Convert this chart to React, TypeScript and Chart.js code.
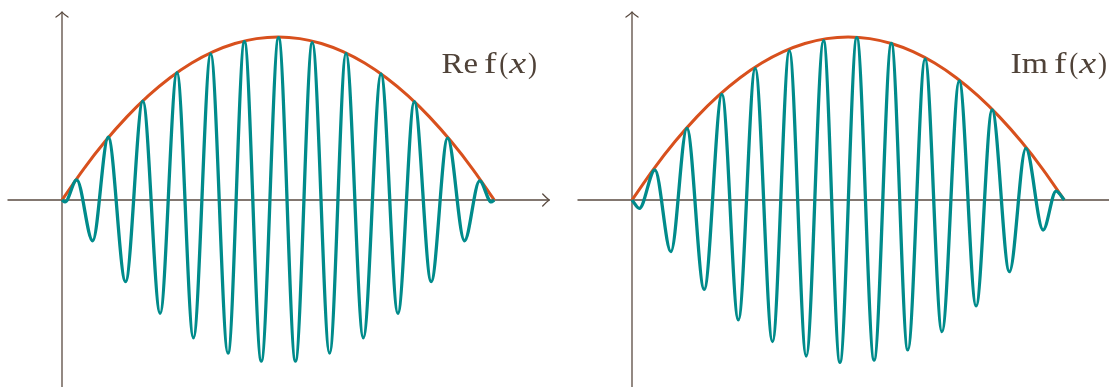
import { useEffect, useRef } from "react";
import { Chart, registerables } from "chart.js";

Chart.register(...registerables);

// Envelope (upper bound of |f|), sampled along x in [0, 1]
const ENVELOPE_X = [0, 0.05, 0.1, 0.15, 0.2, 0.25, 0.3, 0.35, 0.4, 0.45, 0.5, 0.55, 0.6, 0.65, 0.7, 0.75, 0.8, 0.85, 0.9, 0.95, 1];
const ENVELOPE_Y = [0, 0.19, 0.36, 0.51, 0.64, 0.75, 0.84, 0.91, 0.96, 0.99, 1.0, 0.99, 0.96, 0.91, 0.84, 0.75, 0.64, 0.51, 0.36, 0.19, 0];

// Real part: start, extrema, end
const RE_X = [0, 0.007, 0.034, 0.071, 0.107, 0.147, 0.187, 0.227, 0.266, 0.304, 0.344, 0.384, 0.422, 0.461, 0.501, 0.54, 0.579, 0.619, 0.657, 0.697, 0.738, 0.777, 0.815, 0.854, 0.892, 0.931, 0.966, 0.993, 1];
const RE_Y = [0, -0.012, 0.123, -0.25, 0.385, -0.501, 0.607, -0.695, 0.781, -0.845, 0.896, -0.94, 0.971, -0.988, 0.996, -0.988, 0.965, -0.94, 0.9, -0.845, 0.773, -0.695, 0.603, -0.501, 0.379, -0.25, 0.117, -0.012, 0];

// Imaginary part: start, extrema, end
const IM_X = [0, 0.017, 0.053, 0.09, 0.127, 0.167, 0.208, 0.246, 0.285, 0.325, 0.364, 0.403, 0.443, 0.481, 0.52, 0.56, 0.6, 0.638, 0.678, 0.717, 0.757, 0.796, 0.833, 0.873, 0.911, 0.951, 0.981, 1];
const IM_Y = [0, -0.051, 0.184, -0.317, 0.44, -0.548, 0.648, -0.736, 0.808, -0.869, 0.916, -0.957, 0.977, -0.996, 0.996, -0.982, 0.961, -0.92, 0.865, -0.808, 0.73, -0.65, 0.552, -0.44, 0.317, -0.184, 0.055, 0];

// Axis extents (data units) and label anchor
const AXIS_X = [-0.125, 1.127];
const AXIS_Y = [-1.25, 1.153];
const LABEL_AT = [0.878, 0.78];
const PANEL_NAMES = ["Re", "Im"];

const TEAL = "#008b8b";
const ORANGE = "#d8501d";
const AXIS_COLOR = "#5a4b41";
const TEXT_COLOR = "#4f4238";

const PX_PER_X = 432.3;
const PX_PER_Y = 163;
const ORIGIN_PX = 62;
const BASE_PX = 200;
const HEIGHT = 387;

const pts = (xs: number[], ys: number[]) => xs.map((x, i) => ({ x, y: ys[i] }));

const axesPlugin = {
  id: "arrowAxes",
  beforeDatasetsDraw(chart: any) {
    const { ctx, scales } = chart;
    const sx = scales.x;
    const sy = scales.y;
    const x0 = sx.getPixelForValue(0);
    const y0 = sy.getPixelForValue(0);
    const xa = sx.getPixelForValue(AXIS_X[0]);
    const xb = sx.getPixelForValue(AXIS_X[1]);
    const ya = sy.getPixelForValue(AXIS_Y[0]);
    const yb = sy.getPixelForValue(AXIS_Y[1]);
    ctx.save();
    ctx.strokeStyle = AXIS_COLOR;
    ctx.lineWidth = 1.3;
    ctx.lineCap = "round";
    ctx.lineJoin = "round";
    ctx.beginPath();
    ctx.moveTo(xa, y0);
    ctx.lineTo(xb, y0);
    ctx.moveTo(x0, ya);
    ctx.lineTo(x0, yb);
    ctx.stroke();
    // arrow heads
    ctx.beginPath();
    ctx.moveTo(xb - 6.5, y0 - 6);
    ctx.quadraticCurveTo(xb - 2.5, y0 - 1.8, xb, y0);
    ctx.quadraticCurveTo(xb - 2.5, y0 + 1.8, xb - 6.5, y0 + 6);
    ctx.moveTo(x0 - 6, yb + 5);
    ctx.quadraticCurveTo(x0 - 1.8, yb + 2, x0, yb);
    ctx.quadraticCurveTo(x0 + 1.8, yb + 2, x0 + 6, yb + 5);
    ctx.stroke();
    ctx.restore();
  },
  afterDraw(chart: any, _args: any, opts: any) {
    const { ctx, scales } = chart;
    const lx = scales.x.getPixelForValue(LABEL_AT[0]);
    const ly = scales.y.getPixelForValue(LABEL_AT[1]);
    // text, ink-left offset, target ink width, italic
    const parts: [string, number, number, boolean][] = [
      [opts.name, 0, 36, false],
      ["f", 42.5, 12.5, false],
      ["(", 58.5, 7, false],
      ["x", 66.5, 19, true],
      [")", 86.5, 7, false],
    ];
    ctx.save();
    ctx.fillStyle = TEXT_COLOR;
    ctx.textBaseline = "alphabetic";
    ctx.textAlign = "left";
    for (const [s, dx, w, it] of parts) {
      ctx.font = `${it ? "italic " : ""}30px "Liberation Serif", serif`;
      const m = ctx.measureText(s);
      const inkL = -m.actualBoundingBoxLeft;
      const inkW = m.actualBoundingBoxRight + m.actualBoundingBoxLeft;
      const k = Math.max(0.9, Math.min(1.45, w / inkW));
      ctx.save();
      ctx.translate(lx + dx, ly);
      ctx.scale(k, 1);
      ctx.fillText(s, -inkL, 0);
      ctx.restore();
    }
    ctx.restore();
  },
};

function Panel({ left, width, name, xs, ys }: { left: number; width: number; name: string; xs: number[]; ys: number[] }) {
  const ref = useRef<HTMLCanvasElement>(null);
  useEffect(() => {
    const xMin = -ORIGIN_PX / PX_PER_X;
    const xMax = xMin + width / PX_PER_X;
    const yMax = BASE_PX / PX_PER_Y;
    const yMin = yMax - HEIGHT / PX_PER_Y;
    const chart = new Chart(ref.current as HTMLCanvasElement, {
      type: "line",
      data: {
        datasets: [
          {
            data: pts(xs, ys),
            borderColor: TEAL,
            borderWidth: 3.3,
            pointRadius: 0,
            fill: false,
            cubicInterpolationMode: "monotone",
          },
          {
            data: pts(ENVELOPE_X, ENVELOPE_Y),
            borderColor: ORANGE,
            borderWidth: 3,
            pointRadius: 0,
            fill: false,
            cubicInterpolationMode: "monotone",
          },
        ],
      },
      options: {
        responsive: false,
        animation: false,
        devicePixelRatio: 1,
        events: [],
        layout: { padding: 0 },
        scales: {
          x: { type: "linear", min: xMin, max: xMax, display: false },
          y: { type: "linear", min: yMin, max: yMax, display: false },
        },
        plugins: {
          legend: { display: false },
          tooltip: { enabled: false },
          arrowAxes: { name },
        } as any,
      },
      plugins: [axesPlugin],
    });
    return () => chart.destroy();
  }, []);
  return (
    <canvas
      ref={ref}
      width={width}
      height={HEIGHT}
      style={{ position: "absolute", left, top: 0, width, height: HEIGHT, display: "block" }}
    />
  );
}

export default function App() {
  return (
    <div style={{ position: "absolute", left: 0, top: 0, width: 1109, height: HEIGHT, background: "#fff", overflow: "hidden" }}>
      <Panel left={0} width={570} name={PANEL_NAMES[0]} xs={RE_X} ys={RE_Y} />
      <Panel left={570} width={539} name={PANEL_NAMES[1]} xs={IM_X} ys={IM_Y} />
    </div>
  );
}
